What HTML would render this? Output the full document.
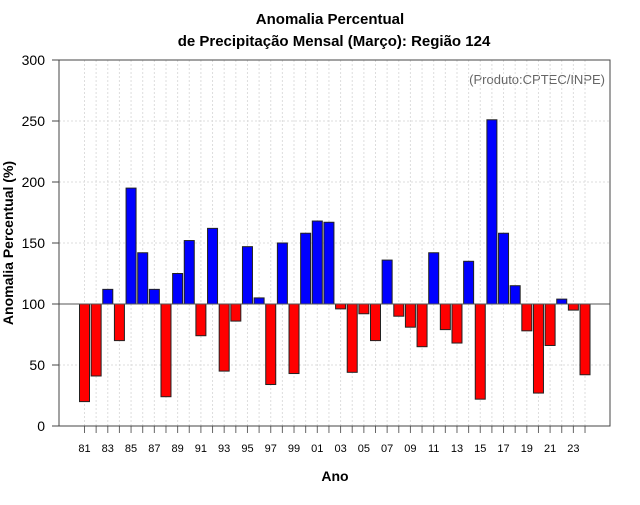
<!DOCTYPE html>
<html><head><meta charset="utf-8"><style>
body{margin:0;background:#fff}
svg text{font-family:"Liberation Sans",sans-serif}
</style></head><body>
<svg id="c" width="640" height="500" xmlns="http://www.w3.org/2000/svg">
<text x="330" y="24" text-anchor="middle" font-size="15" font-weight="bold">Anomalia Percentual</text>
<text x="334" y="46" text-anchor="middle" font-size="15" font-weight="bold">de Precipitação Mensal (Março): Região 124</text>
<text x="335" y="481" text-anchor="middle" font-size="14" font-weight="bold">Ano</text>
<text transform="translate(13,243) rotate(-90)" text-anchor="middle" font-size="14" font-weight="bold">Anomalia Percentual (%)</text>
<text x="605" y="84" text-anchor="end" font-size="13" fill="#666">(Produto:CPTEC/INPE)</text>
<g id="grid"></g><g id="bars"></g><g id="axes"></g>
</svg>
<script>
const years=[81,82,83,84,85,86,87,88,89,90,91,92,93,94,95,96,97,98,99,0,1,2,3,4,5,6,7,8,9,10,11,12,13,14,15,16,17,18,19,20,21,22,23,24];
const values=[20,41,112,70,195,142,112,24,125,152,74,162,45,86,147,105,34,150,43,158,168,167,96,44,92,70,136,90,81,65,142,79,68,135,22,251,158,115,78,27,66,104,95,42];
const yTicks=[0,50,100,150,200,250,300];
const NS="http://www.w3.org/2000/svg";
const L=59,R=610,T=60,B=426;
const y=v=>B-(v/300)*(B-T);
const x=i=>84.5+i*11.64;
function mk(tag,attrs,parent){const e=document.createElementNS(NS,tag);for(const k in attrs)e.setAttribute(k,attrs[k]);parent.appendChild(e);return e;}
const g=document.getElementById('grid'),b=document.getElementById('bars'),a=document.getElementById('axes');
yTicks.forEach(t=>{
 if(t>0&&t<300){const l=mk('line',{x1:L,x2:R,y1:y(t),y2:y(t),stroke:'#ddd','stroke-dasharray':'2,2'},g);
 
 }
 const tk=mk('line',{x1:L-7,x2:L,y1:y(t),y2:y(t),stroke:'#444'},a);
 
 
 const tx=mk('text',{x:L-14,y:y(t)+5,'text-anchor':'end','font-size':'14'},a);
 tx.textContent=t;
 
 
});
years.forEach((yr,i)=>{
 const gl=mk('line',{x1:x(i),x2:x(i),y1:T,y2:B,stroke:'#ddd','stroke-dasharray':'2,2'},g);
 
 
 const tk=mk('line',{x1:x(i),x2:x(i),y1:B,y2:B+7,stroke:'#666'},a);
 
 
 if(i%2===0){const tx=mk('text',{x:x(i),y:452,'text-anchor':'middle','font-size':'11'},a);
 tx.textContent=String(yr).padStart(2,'0');
 
 }
 const v=values[i];const top=Math.min(y(v),y(100)),h=Math.abs(y(v)-y(100));
 const r=mk('rect',{x:x(i)-5,y:top,width:10,height:h,fill:v>=100?'#0000ff':'#ff0000',stroke:'#222','stroke-width':1},b);
 
 
});
const base=mk('line',{x1:L,x2:R,y1:y(100),y2:y(100),stroke:'#555'},a);


const box=mk('rect',{x:L,y:T,width:R-L,height:B-T,fill:'none',stroke:'#444'},a);


</script>
</body></html>
